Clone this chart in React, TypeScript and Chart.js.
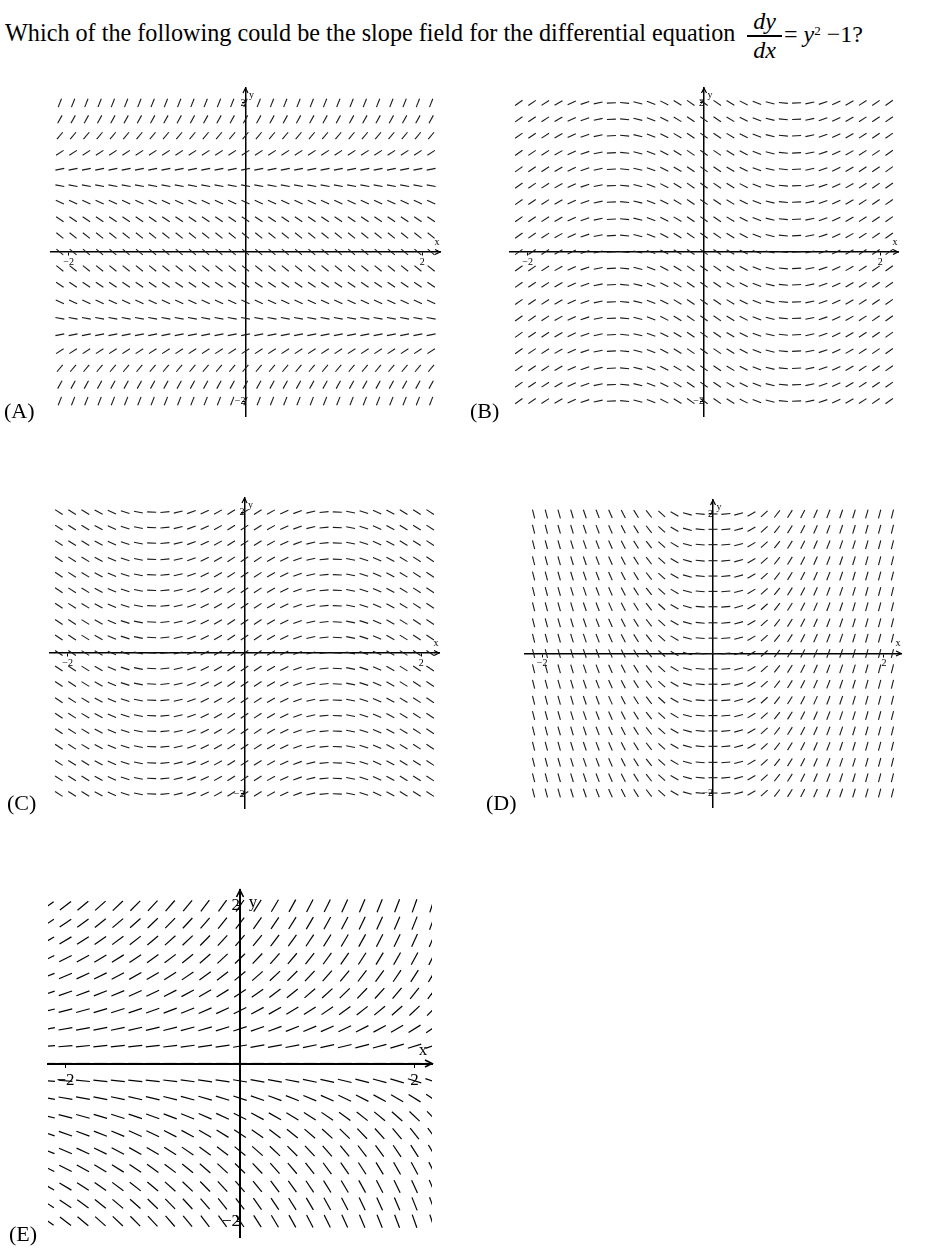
import React, { useEffect, useRef } from 'react';
import { Chart, registerables } from 'chart.js';

Chart.register(...registerables);

const FONT = '"Liberation Serif", "Times New Roman", serif';

// ---- grid positions (data units) ----
const X_GRID_AD = [-2.1, -1.95, -1.8, -1.65, -1.5, -1.35, -1.2, -1.05, -0.9, -0.75, -0.6, -0.45, -0.3, -0.15, 0, 0.15, 0.3, 0.45, 0.6, 0.75, 0.9, 1.05, 1.2, 1.35, 1.5, 1.65, 1.8, 1.95, 2.1];
const X_GRID_E = [-2.2, -2, -1.8, -1.6, -1.4, -1.2, -1, -0.8, -0.6, -0.4, -0.2, 0, 0.2, 0.4, 0.6, 0.8, 1, 1.2, 1.4, 1.6, 1.8, 2, 2.2];
const Y_GRID = [-2, -1.78, -1.56, -1.33, -1.11, -0.89, -0.67, -0.44, -0.22, 0, 0.22, 0.44, 0.67, 0.89, 1.11, 1.33, 1.56, 1.78, 2];

// ---- slopes ----
// (A) slope depends on the row (y)
const SLOPE_A_BY_ROW = [3, 2.16, 1.42, 0.78, 0.23, -0.21, -0.56, -0.8, -0.95, -1, -0.95, -0.8, -0.56, -0.21, 0.23, 0.78, 1.42, 2.16, 3];
// (B) slope depends on the column (x)
const SLOPE_B_BY_COL = [0.83, 0.8, 0.77, 0.68, 0.55, 0.41, 0.25, 0.06, -0.12, -0.29, -0.45, -0.6, -0.71, -0.8, -0.83, -0.8, -0.71, -0.6, -0.45, -0.29, -0.12, 0.06, 0.25, 0.41, 0.55, 0.68, 0.77, 0.8, 0.83];
// (C) slope depends on the column (x)
const SLOPE_C_BY_COL = [-0.83, -0.8, -0.77, -0.68, -0.55, -0.41, -0.25, -0.06, 0.12, 0.29, 0.45, 0.6, 0.71, 0.8, 0.83, 0.8, 0.71, 0.6, 0.45, 0.29, 0.12, -0.06, -0.25, -0.41, -0.55, -0.68, -0.77, -0.8, -0.83];
// (D) slope depends on the column (x)
const SLOPE_D_BY_COL = [-4.92, -4.58, -4.28, -4.01, -3.56, -3.2, -2.76, -2.41, -1.96, -1.57, -1.1, -0.71, -0.33, -0.11, 0, 0.11, 0.33, 0.71, 1.1, 1.57, 1.96, 2.41, 2.76, 3.2, 3.56, 4.01, 4.28, 4.58, 4.92];
// (E) slope along x = 0 for each row, and growth factor for each column
const SLOPE_E_AT_X0_BY_ROW = [-1.64, -1.46, -1.28, -1.09, -0.91, -0.73, -0.55, -0.36, -0.18, 0, 0.18, 0.36, 0.55, 0.73, 0.91, 1.09, 1.28, 1.46, 1.64];
const SLOPE_E_COL_FACTOR = [0.49, 0.52, 0.56, 0.6, 0.64, 0.68, 0.72, 0.77, 0.82, 0.88, 0.94, 1, 1.07, 1.14, 1.21, 1.29, 1.38, 1.47, 1.57, 1.67, 1.79, 1.9, 2.03];

// ---- axes ----
const AXIS_RANGE = [-2.2, 2.2];
const TICK_VALUES = [-2, 2];
const TICK_LABELS = ['\u22122', '2'];

type Spec = {
  key: string;
  letter: string;
  area: { left: number; top: number; width: number; height: number };
  xs: number[];
  ys: number[];
  slopeAt: (r: number, c: number) => number;
  segLen: number;
  segWidth: number;
  segColor: string;
  axisWidth: number;
  tickFont: number;
  tickPad: number;
  axisFont: number;
  arrow: number;
  xLab: [number, number];
  yLab: [number, number];
  clip: boolean;
  label: { left: number; top: number };
};

const PAD = 26;

const SPECS: Spec[] = [
  {
    key: 'A', letter: '(A)', area: { left: 50.7, top: 88.4, width: 388.6, height: 327.8 },
    xs: X_GRID_AD, ys: Y_GRID, slopeAt: (r) => SLOPE_A_BY_ROW[r],
    segLen: 9, segWidth: 1.1, segColor: '#1a1a1a', axisWidth: 1.5, tickFont: 10, tickPad: 1, axisFont: 10, arrow: 5,
    xLab: [-3, -10], yLab: [6, 7], clip: false, label: { left: 4, top: 400 },
  },
  {
    key: 'B', letter: '(B)', area: { left: 510, top: 88.4, width: 388, height: 327.8 },
    xs: X_GRID_AD, ys: Y_GRID, slopeAt: (_r, c) => SLOPE_B_BY_COL[c],
    segLen: 9, segWidth: 1.1, segColor: '#1a1a1a', axisWidth: 1.5, tickFont: 10, tickPad: 1, axisFont: 10, arrow: 5,
    xLab: [-3, -10], yLab: [6, 7], clip: false, label: { left: 470, top: 400 },
  },
  {
    key: 'C', letter: '(C)', area: { left: 49.7, top: 497.6, width: 388.6, height: 310.2 },
    xs: X_GRID_AD, ys: Y_GRID, slopeAt: (_r, c) => SLOPE_C_BY_COL[c],
    segLen: 9, segWidth: 1.1, segColor: '#1a1a1a', axisWidth: 1.5, tickFont: 10, tickPad: 1, axisFont: 10, arrow: 5,
    xLab: [-3, -10], yLab: [6, 7], clip: false, label: { left: 7, top: 792 },
  },
  {
    key: 'D', letter: '(D)', area: { left: 525.3, top: 500, width: 376, height: 306.7 },
    xs: X_GRID_AD, ys: Y_GRID, slopeAt: (_r, c) => SLOPE_D_BY_COL[c],
    segLen: 9, segWidth: 1.1, segColor: '#1a1a1a', axisWidth: 1.5, tickFont: 10, tickPad: 1, axisFont: 10, arrow: 5,
    xLab: [-3, -10], yLab: [6, 7], clip: false, label: { left: 486, top: 792 },
  },
  {
    key: 'E', letter: '(E)', area: { left: 48.3, top: 889.9, width: 384.1, height: 346.7 },
    xs: X_GRID_E, ys: Y_GRID, slopeAt: (r, c) => SLOPE_E_AT_X0_BY_ROW[r] * SLOPE_E_COL_FACTOR[c],
    segLen: 14, segWidth: 1.2, segColor: '#000', axisWidth: 2, tickFont: 17, tickPad: 4, axisFont: 17, arrow: 7,
    xLab: [-9, -13], yLab: [13, 13], clip: true, label: { left: 9, top: 1223 },
  },
];

const decorPlugin = {
  id: 'axisDecor',
  afterDraw(chart: any, _args: any, opts: any) {
    const { ctx, chartArea, scales } = chart;
    const x0 = scales.x.getPixelForValue(0);
    const y0 = scales.y.getPixelForValue(0);
    const a = opts.arrow;
    ctx.save();
    ctx.strokeStyle = '#000';
    ctx.fillStyle = '#000';
    ctx.lineWidth = opts.axisWidth * 0.8;
    const xr = chartArea.right;
    ctx.beginPath();
    ctx.moveTo(xr - a, y0 - a * 0.5);
    ctx.lineTo(xr, y0);
    ctx.lineTo(xr - a, y0 + a * 0.5);
    ctx.stroke();
    const yt = chartArea.top;
    ctx.beginPath();
    ctx.moveTo(x0 - a * 0.5, yt + a);
    ctx.lineTo(x0, yt);
    ctx.lineTo(x0 + a * 0.5, yt + a);
    ctx.stroke();
    ctx.font = `${opts.axisFont}px ${FONT}`;
    ctx.textAlign = 'center';
    ctx.textBaseline = 'middle';
    ctx.fillText('x', xr + opts.xLab[0], y0 + opts.xLab[1]);
    ctx.fillText('y', x0 + opts.yLab[0], yt + opts.yLab[1]);
    ctx.restore();
  },
};

function Panel({ spec }: { spec: Spec }) {
  const ref = useRef<HTMLCanvasElement | null>(null);
  useEffect(() => {
    if (!ref.current) return;
    const points: { x: number; y: number; m: number }[] = [];
    spec.ys.forEach((y, r) => {
      spec.xs.forEach((x, c) => {
        points.push({ x, y, m: spec.slopeAt(r, c) });
      });
    });
    const tickCommon = (s: any) => {
      s.ticks = TICK_VALUES.map((v) => ({ value: v }));
    };
    const fmt = (v: any) => TICK_LABELS[TICK_VALUES.indexOf(Number(v))] ?? '';
    const chart = new Chart(ref.current, {
      type: 'scatter',
      data: {
        datasets: [
          {
            data: points as any,
            pointStyle: 'line',
            pointRadius: spec.segLen / 2,
            pointHoverRadius: spec.segLen / 2,
            pointBorderWidth: spec.segWidth,
            pointBorderColor: spec.segColor,
            pointBackgroundColor: spec.segColor,
            pointRotation: (ctx: any) => {
              const raw = ctx.raw;
              if (!raw) return 0;
              const xs = ctx.chart.scales.x;
              const ys = ctx.chart.scales.y;
              const sx = xs.getPixelForValue(1) - xs.getPixelForValue(0);
              const sy = ys.getPixelForValue(0) - ys.getPixelForValue(1);
              return (-Math.atan((raw.m * sy) / sx) * 180) / Math.PI;
            },
            clip: spec.clip ? 0 : false,
          } as any,
        ],
      },
      options: {
        animation: false,
        responsive: false,
        maintainAspectRatio: false,
        events: [],
        layout: { padding: PAD },
        plugins: {
          legend: { display: false },
          tooltip: { enabled: false },
          axisDecor: {
            arrow: spec.arrow,
            axisWidth: spec.axisWidth,
            axisFont: spec.axisFont,
            xLab: spec.xLab,
            yLab: spec.yLab,
          },
        } as any,
        scales: {
          x: {
            type: 'linear',
            min: AXIS_RANGE[0],
            max: AXIS_RANGE[1],
            position: { y: 0 } as any,
            afterBuildTicks: tickCommon,
            grid: { drawOnChartArea: false, drawTicks: true, tickLength: 3, color: '#000', lineWidth: 1 },
            border: { display: true, color: '#000', width: spec.axisWidth },
            ticks: {
              autoSkip: false,
              maxRotation: 0,
              padding: spec.tickPad,
              color: '#000',
              font: { family: FONT, size: spec.tickFont },
              callback: fmt,
            },
          },
          y: {
            type: 'linear',
            min: AXIS_RANGE[0],
            max: AXIS_RANGE[1],
            position: { x: 0 } as any,
            afterBuildTicks: tickCommon,
            grid: { drawOnChartArea: false, drawTicks: true, tickLength: 3, color: '#000', lineWidth: 1 },
            border: { display: true, color: '#000', width: spec.axisWidth },
            ticks: {
              autoSkip: false,
              padding: 1,
              color: '#000',
              font: { family: FONT, size: spec.tickFont },
              callback: fmt,
            },
          },
        },
      },
      plugins: [decorPlugin as any],
    });
    return () => chart.destroy();
  }, [spec]);

  const { left, top, width, height } = spec.area;
  const w = Math.round(width + 2 * PAD);
  const h = Math.round(height + 2 * PAD);
  return (
    <>
      <canvas
        ref={ref}
        width={w}
        height={h}
        style={{ position: 'absolute', left: left - PAD, top: top - PAD, width: w, height: h }}
      />
      <div
        style={{
          position: 'absolute',
          left: spec.label.left,
          top: spec.label.top,
          fontFamily: FONT,
          fontSize: 22,
          lineHeight: '22px',
          whiteSpace: 'nowrap',
        }}
      >
        {spec.letter}
      </div>
    </>
  );
}

export default function App() {
  return (
    <div
      style={{
        position: 'absolute',
        left: 0,
        top: 0,
        width: 928,
        height: 1252,
        background: '#fff',
        overflow: 'hidden',
        fontFamily: FONT,
        color: '#000',
      }}
    >
      <div style={{ position: 'absolute', left: 5, top: 21, fontSize: 24.2, lineHeight: '24px', whiteSpace: 'nowrap' }}>
        Which of the following could be the slope field for the differential equation
      </div>
      <div style={{ position: 'absolute', left: 748, top: 9, width: 33, textAlign: 'center', fontSize: 24, lineHeight: '24px', fontStyle: 'italic' }}>
        dy
      </div>
      <div style={{ position: 'absolute', left: 747, top: 35, width: 35, height: 1.5, background: '#000' }} />
      <div style={{ position: 'absolute', left: 748, top: 38, width: 33, textAlign: 'center', fontSize: 24, lineHeight: '24px', fontStyle: 'italic' }}>
        dx
      </div>
      <div style={{ position: 'absolute', left: 784, top: 22, fontSize: 24, lineHeight: '24px', whiteSpace: 'nowrap' }}>
        = <i>y</i>
        <sup style={{ fontSize: 13, verticalAlign: 'top', position: 'relative', top: -3 }}>2</sup> {'\u2212'}1?
      </div>
      {SPECS.map((s) => (
        <Panel key={s.key} spec={s} />
      ))}
    </div>
  );
}
